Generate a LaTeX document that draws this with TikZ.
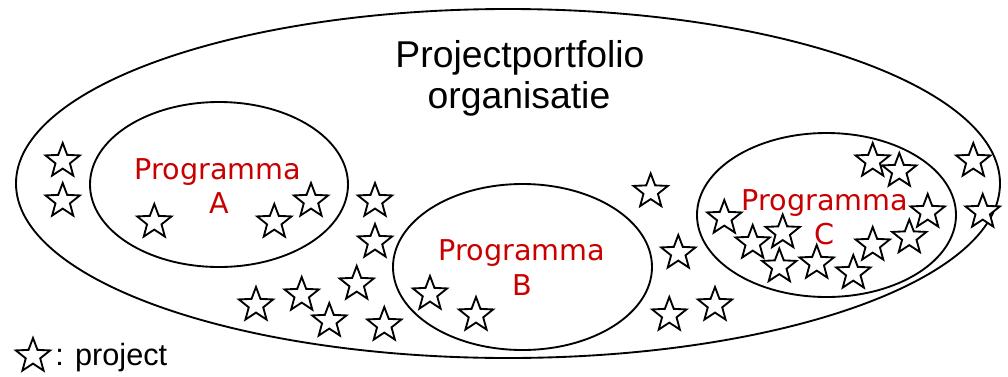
\documentclass[tikz,border=0pt]{standalone}
\usepackage{fontspec}
\setmainfont{Liberation Sans}
\newfontfamily\redfont{DejaVu Sans}
\definecolor{progred}{RGB}{200,0,0}
\tikzset{
  ring/.style={draw=black, line width=1.4pt},
  starline/.style={draw=black, fill=white, line width=1.4pt, line join=miter},
  titletext/.style={font=\fontsize{28}{31}\selectfont, anchor=base, inner sep=0pt},
  progtext/.style={font=\redfont\fontsize{21.5}{24}\selectfont, text=progred, anchor=base, inner sep=0pt},
  legendtext/.style={font=\fontsize{23}{26}\selectfont, anchor=base west, inner sep=0pt},
  pics/proj/.style={code={
    \path[starline] (-90:18) -- (-54:7.6) -- (-18:18) -- (18:7.6) -- (54:18) -- (90:7.6)
      -- (126:18) -- (162:7.6) -- (198:18) -- (234:7.6) -- cycle;
  }}
}
\begin{document}
\begin{tikzpicture}[x=0.75pt,y=-0.75pt]
\useasboundingbox (0,0) rectangle (1008,376);
% outer organisation
\draw[ring] (508,183.5) ellipse [x radius=492, y radius=174.5];
\node[titletext] (title1) at (520,67) {Projectportfolio};
\node[titletext] (title2) at (519,108) {organisatie};
% programmes
\draw[ring] (219,184.5) ellipse [x radius=129, y radius=82.5];
\draw[ring] (522.5,267) ellipse [x radius=129.5, y radius=83];
\draw[ring] (826.5,215) ellipse [x radius=129.5, y radius=82];
\node[progtext] (pa1) at (218,179) {Programma};
\node[progtext] (pa2) at (219,213) {A};
\node[progtext] (pb1) at (522,260) {Programma};
\node[progtext] (pb2) at (522,295) {B};
\node[progtext] (pc1) at (825,210) {Programma};
\node[progtext] (pc2) at (825,244) {C};
% projects
\foreach \px/\py in {62.7/161, 62.7/201, 154.3/222, 274.3/222, 311/201,
  375/201, 375/242, 356.7/284, 301.7/295, 256/305, 329.3/321, 384.3/325,
  430/294, 476/315, 650.7/191.5, 678.3/253, 669.3/315, 715/305,
  872.7/161, 899.3/171, 973.3/161, 724.3/218, 927.7/212, 982.7/212,
  782.7/232.5, 752.7/243, 909.3/237.5, 872.7/245, 779.3/266.5, 816.7/263, 853.3/273}
  \pic at (\px,\py) {proj};
% legend
\pic at (33,356) {proj};
\node[legendtext] (legend) at (55,365) {: project};
\end{tikzpicture}
\end{document}
